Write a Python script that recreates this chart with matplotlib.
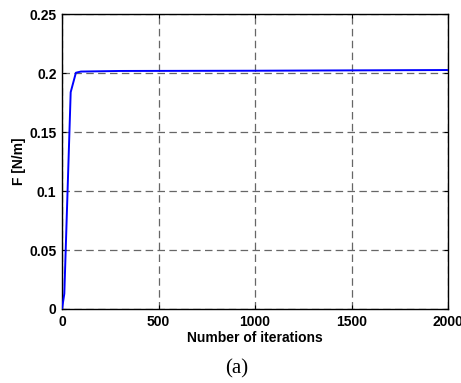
import matplotlib
matplotlib.use("Agg")
import matplotlib.pyplot as plt

iterations = [0, 12, 45, 72, 98, 300, 1000, 2000]
F_values = [0.0, 0.013, 0.184, 0.2005, 0.2015, 0.202, 0.2022, 0.2028]
x_ticks = [0, 500, 1000, 1500, 2000]
y_ticks = [0, 0.05, 0.1, 0.15, 0.2, 0.25]
y_tick_labels = ["0", "0.05", "0.1", "0.15", "0.2", "0.25"]

plt.rcParams['font.family'] = ['Liberation Sans', 'DejaVu Sans']

fig = plt.figure(figsize=(4.61, 3.83), dpi=100)
W, H = 461, 383
ax = fig.add_axes([62 / W, 1 - 309 / H, (448 - 62) / W, (309 - 14.4) / H])

ax.plot(iterations, F_values, color=(0, 0, 1), linewidth=1.4, zorder=3)

ax.set_xlim(0, 2000)
ax.set_ylim(0, 0.25)
ax.set_xticks(x_ticks)
ax.set_xticklabels([str(v) for v in x_ticks], fontweight='bold', fontsize=10)
ax.set_yticks(y_ticks)
ax.set_yticklabels(y_tick_labels, fontweight='bold', fontsize=10)
ax.tick_params(direction='in', length=3, width=0.8, top=True, right=True)
ax.tick_params(axis='x', pad=4)
ax.tick_params(axis='y', pad=4)
ax.grid(True, color='#666666', linestyle=(0, (6, 3.5)), linewidth=0.9)
for s in ax.spines.values():
    s.set_linewidth(1.0)

ax.set_xlabel('Number of iterations', fontweight='bold', fontsize=10, labelpad=2)
ax.set_ylabel('F [N/m]', fontweight='bold', fontsize=10, labelpad=2)

fig.text(236.5 / W, 1 - 369 / H, '(a)', family=['Liberation Serif', 'DejaVu Serif'],
         fontsize=15, ha='center', va='center')

fig.savefig('out.png', dpi=100)
